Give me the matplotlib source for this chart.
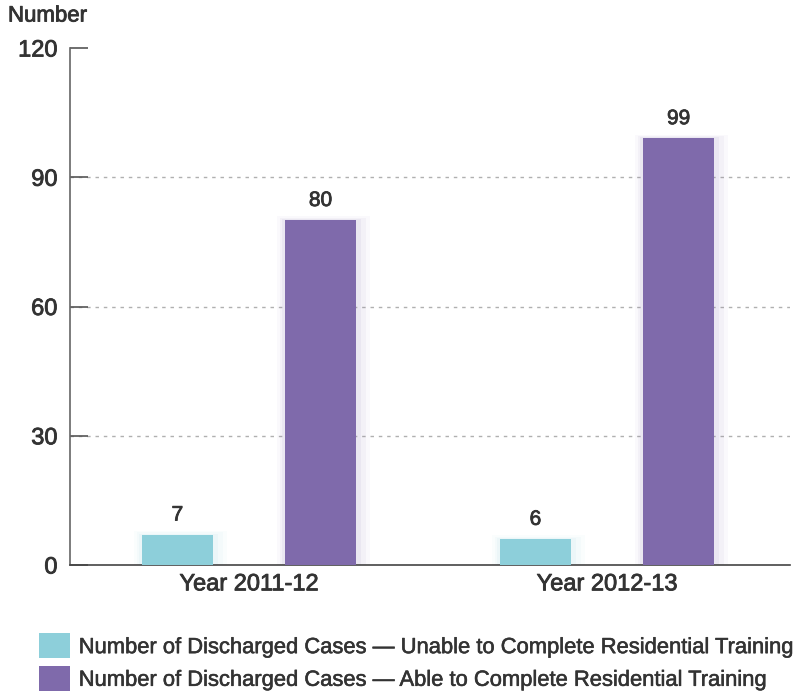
import matplotlib
matplotlib.use("Agg")
import matplotlib.pyplot as plt
import numpy as np
from matplotlib.patches import Patch
import matplotlib.patheffects as pe

categories = ["Year 2011-12", "Year 2012-13"]
unable = [7, 6]
able = [80, 99]
series_labels = ["Number of Discharged Cases \u2014 Unable to Complete Residential Training",
                 "Number of Discharged Cases \u2014 Able to Complete Residential Training"]
yticks = [0, 30, 60, 90, 120]

c_unable = "#8dcfda"
c_able = "#7f6aab"
txt = "#333333"

plt.rcParams['font.family'] = ['Liberation Sans', 'DejaVu Sans']
heavy = [pe.withStroke(linewidth=0.6, foreground=txt)]
heavy_l = [pe.withStroke(linewidth=0.4, foreground=txt)]

fig = plt.figure(figsize=(8, 6.98), dpi=100)
ax = fig.add_axes([0.0875, 0.1905, 0.90, 0.7407])

x = np.arange(len(categories))
w = 0.2
off = 0.2
for xs, vals, col in [(x - off, unable, c_unable), (x + off, able, c_able)]:
    # soft glow
    for k, a in [(0.03, 0.035), (0.02, 0.05), (0.01, 0.07)]:
        ax.bar(xs + k * 0.3, [v + k * 30 for v in vals], width=w + 2 * k, color=col, alpha=a, zorder=2, linewidth=0)
    ax.bar(xs, vals, width=w, color=col, zorder=3, linewidth=0)
    for xi, v in zip(xs, vals):
        ax.text(xi, v + 2.4, str(v), ha='center', va='bottom', fontsize=15, color=txt, zorder=4,
                path_effects=heavy)

ax.set_xlim(-0.5, 1.511)
ax.set_ylim(0, 120)
ax.set_yticks(yticks)
ax.set_yticklabels([str(t) for t in yticks], fontsize=17, color=txt)
ax.set_xticks(x)
ax.set_xticklabels(categories, fontsize=17, color=txt)
for lab in ax.get_xticklabels() + ax.get_yticklabels():
    lab.set_path_effects(heavy)
ax.tick_params(axis='x', length=0, pad=6)
ax.tick_params(axis='y', direction='in', length=13, width=1.2, color='#555555', pad=9)
for s in ['top', 'right']:
    ax.spines[s].set_visible(False)
ax.spines['left'].set_color('#666666')
ax.spines['left'].set_linewidth(1.2)
ax.spines['bottom'].set_color('#444444')
ax.spines['bottom'].set_linewidth(1.2)
ax.yaxis.grid(True, linestyle=(0, (2.5, 3.5)), color='#b0b0b0', linewidth=1)
ax.set_axisbelow(True)
for gl, t in zip(ax.get_ygridlines(), yticks):
    if t in (0, 120):
        gl.set_visible(False)

fig.text(0.01, 0.962, "Number", fontsize=16, color=txt, ha='left', va='bottom', path_effects=heavy)

handles = [Patch(facecolor=c_unable, edgecolor='none'), Patch(facecolor=c_able, edgecolor='none')]
leg = fig.legend(handles, series_labels, loc='upper left', bbox_to_anchor=(0.049, 0.0925),
                 frameon=False, fontsize=15.8, handlelength=1.42, handleheight=1.36,
                 handletextpad=0.38, labelspacing=0.36, borderpad=0, borderaxespad=0,
                 labelcolor=txt)
for t in leg.get_texts():
    t.set_path_effects(heavy_l)

fig.savefig("out.png", dpi=100)
